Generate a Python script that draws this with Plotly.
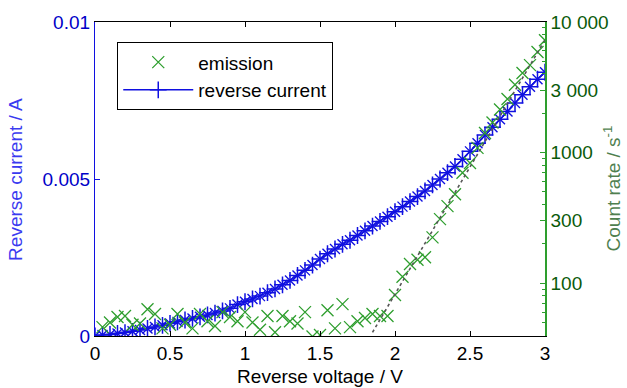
import plotly.graph_objects as go

# Reverse current (left axis, A) at 0.05 V steps
voltage = [round(0.05 * i, 2) for i in range(61)]
reverse_current = [
    0.00000, 0.00003, 0.00005, 0.00008, 0.00011, 0.00015, 0.00019, 0.00024, 0.00029, 0.00034,
    0.00040, 0.00045, 0.00051, 0.00056, 0.00061, 0.00067, 0.00073, 0.00080, 0.00088, 0.00100,
    0.00109, 0.00118, 0.00127, 0.00138, 0.00150, 0.00163, 0.00177, 0.00193, 0.00209, 0.00226,
    0.00245, 0.00262, 0.00277, 0.00292, 0.00305, 0.00320, 0.00335, 0.00350, 0.00365, 0.00380,
    0.00396, 0.00412, 0.00428, 0.00444, 0.00462, 0.00481, 0.00500, 0.00520, 0.00540, 0.00563,
    0.00588, 0.00614, 0.00640, 0.00665, 0.00690, 0.00715, 0.00742, 0.00768, 0.00794, 0.00818,
    0.00840,
]

# Emission count rate (right axis, 1/s)
emission_v = [round(0.05 * i, 2) for i in range(1, 61)]
emission = [
    46, 50, 55, 56, 48, 49, 63, 58, 45, 48,
    58, 50, 45, 58, 51, 47, 60, 55, 51, 60,
    50, 44, 56, 42, 56, 51, 49, 60, 39, 40,
    62, 45, 69, 46, 51, 54, 58, 56, 56, 81,
    112, 140, 151, 158, 224, 309, 389, 479, 700, 832,
    1086, 1413, 1698, 2138, 2570, 3311, 4074, 4677, 5888, 7244,
]

# Exponential fit (dotted line), end points
fit_v = [1.85, 3.0]
fit_rate = [42, 7300]

x_ticks = [0, 0.5, 1, 1.5, 2, 2.5, 3]
x_tick_text = ["0", "0.5", "1", "1.5", "2", "2.5", "3"]
left_ticks = [0, 0.005, 0.01]
left_tick_text = ["0", "0.005", "0.01"]
right_ticks = [100, 300, 1000, 3000, 10000]
right_tick_text = ["100", "300", "1000", "3 000", "10 000"]
right_minor = [50, 60, 70, 80, 90, 200, 400, 500, 600, 700, 800, 900,
               2000, 4000, 5000, 6000, 7000, 8000, 9000]

BLUE = "#1010e0"
GREEN = "#2e9e2e"
FONT = "Liberation Sans, Arial, sans-serif"
FS = 19

fig = go.Figure()

fig.add_trace(go.Scatter(
    x=emission_v, y=emission, yaxis="y2", mode="markers", name="emission",
    marker=dict(symbol="x-thin", size=12, line=dict(color=GREEN, width=1.3)),
))
fig.add_trace(go.Scatter(
    x=fit_v, y=fit_rate, yaxis="y2", mode="lines", showlegend=False,
    line=dict(color="#555555", width=1.6, dash="dot"), hoverinfo="skip",
))
fig.add_trace(go.Scatter(
    x=voltage, y=reverse_current, mode="markers", showlegend=False,
    marker=dict(symbol="x-thin", size=10, line=dict(color=BLUE, width=1.4)),
))
fig.add_trace(go.Scatter(
    x=voltage, y=reverse_current, mode="lines+markers", name="reverse current",
    line=dict(color=BLUE, width=1.5),
    marker=dict(symbol="cross-thin", size=12, line=dict(color=BLUE, width=1.5)),
))

fig.update_layout(
    width=627, height=388,
    margin=dict(l=95, r=82, t=22, b=52),
    paper_bgcolor="white", plot_bgcolor="white",
    font=dict(family=FONT, size=FS, color="black"),
    showlegend=True,
    legend=dict(
        x=0.049, y=0.936, xanchor="left", yanchor="top",
        bordercolor="black", borderwidth=1.2, bgcolor="white",
        font=dict(family=FONT, size=FS, color="black"),
        itemwidth=70, tracegroupgap=0,
    ),
    xaxis=dict(
        range=[0, 3], tickvals=x_ticks, ticktext=x_tick_text, automargin=False,
        showline=True, linecolor="black", linewidth=1.2, mirror="ticks",
        ticks="inside", ticklen=5, tickcolor="black", showgrid=False, zeroline=False,
        tickfont=dict(color="black", size=FS),
        title=dict(text="Reverse voltage / V", font=dict(color="black", size=FS), standoff=6),
    ),
    yaxis=dict(
        range=[0, 0.01], tickvals=left_ticks, ticktext=left_tick_text, automargin=False,
        showline=True, linecolor=BLUE, linewidth=1.2,
        ticks="inside", ticklen=5, tickcolor=BLUE, showgrid=False, zeroline=False,
        tickfont=dict(color="#0000c8", size=FS),
    ),
    yaxis2=dict(
        type="log", range=[1.595, 4.0], overlaying="y", side="right", automargin=False,
        tickvals=right_ticks, ticktext=right_tick_text,
        showline=True, linecolor=GREEN, linewidth=1.5,
        ticks="inside", ticklen=5, tickcolor=GREEN, showgrid=False, zeroline=False,
        minor=dict(tickvals=right_minor, ticks="inside", ticklen=3, tickcolor=GREEN, showgrid=False),
        tickfont=dict(color="#0a5a0a", size=FS),
    ),
    annotations=[
        dict(text="Reverse current / A", textangle=-90, xref="paper", yref="paper",
             x=-0.178, y=0.5, xanchor="center", yanchor="middle", showarrow=False,
             font=dict(color="#3a3af0", size=FS, family=FONT)),
        dict(text="Count rate / s<sup>-1</sup>", textangle=-90, xref="paper", yref="paper",
             x=1.149, y=0.47, xanchor="center", yanchor="middle", showarrow=False,
             font=dict(color="#4f7f4f", size=FS, family=FONT)),
    ],
)

fig.write_html("out.html", config={"displayModeBar": False},
               post_script="document.body.style.margin='0';")
